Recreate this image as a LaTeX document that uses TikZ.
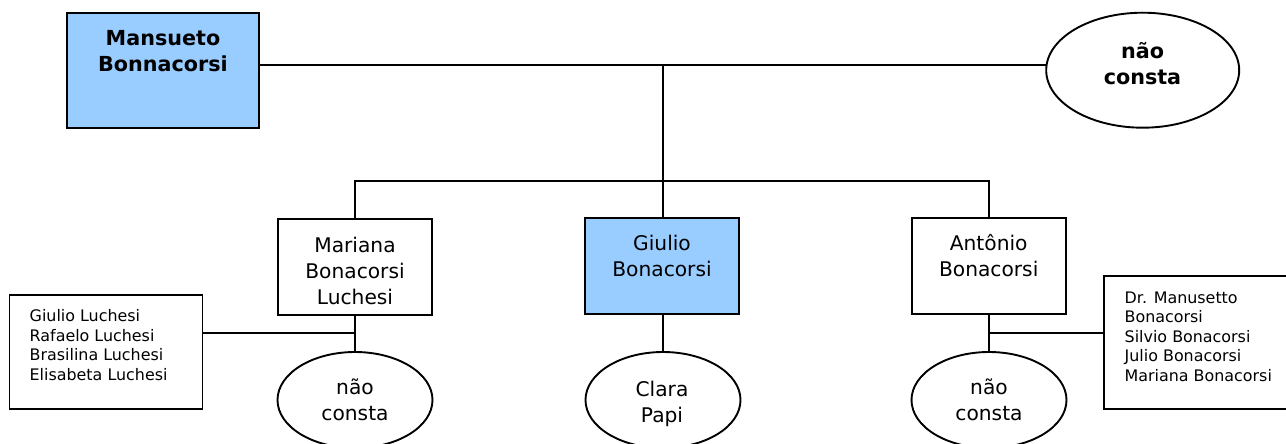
\documentclass[tikz,border=0pt]{standalone}
\usepackage{fontspec}
\setmainfont{DejaVu Sans}
\usetikzlibrary{shapes.geometric}
\definecolor{boxblue}{HTML}{99CCFF}
\begin{document}
\begin{tikzpicture}[x=1pt,y=-1pt,
  ln/.style={line width=1.9pt, line cap=rect},
  box/.style={draw, line width=1.9pt, rectangle, inner sep=0pt, minimum width=154pt, minimum height=96pt},
  bigbox/.style={draw, line width=1.9pt, rectangle, inner sep=0pt, minimum width=192pt, minimum height=115pt, fill=boxblue},
  oval/.style={draw, ellipse, line width=1.9pt, inner sep=0pt, minimum width=155pt, minimum height=96pt},
  bigoval/.style={draw, ellipse, line width=1.9pt, inner sep=0pt, minimum width=193pt, minimum height=115pt},
  listbox/.style={draw, line width=1.9pt, rectangle, inner sep=0pt},
  txt/.style={align=center, inner sep=0pt, font=\fontsize{20.2}{26}\selectfont},
  btxt/.style={align=center, inner sep=0pt, font=\bfseries\fontsize{20.7}{25.5}\selectfont},
  stxt/.style={align=left, inner sep=0pt, anchor=north west, font=\fontsize{15.9}{19.5}\selectfont}
]
\useasboundingbox (0,0) rectangle (1286,444);

% shapes
\node[bigbox] (M) at (163,70.2) {};
\node[bigoval] (E) at (1142.7,70.2) {};
\node[box] (Mar) at (355,267) {};
\node[box, fill=boxblue] (Giu) at (662,266.3) {};
\node[box] (Ant) at (988.7,266) {};
\node[oval] (S1) at (355,400) {};
\node[oval] (S2) at (663,400) {};
\node[oval] (S3) at (989,400) {};
\node[listbox, minimum width=193pt, minimum height=114pt] (L1) at (106,352) {};
\node[listbox, minimum width=191pt, minimum height=133pt] (L3) at (1199.5,342.5) {};

% texts
\node[btxt] (tM) at (163,51) {Mansueto\\Bonnacorsi};
\node[btxt] (tE) at (1142.5,63.5) {não\\consta};
\node[txt] (tMar) at (355,270.6) {Mariana\\Bonacorsi\\Luchesi};
\node[txt] (tGiu) at (662,256) {Giulio\\Bonacorsi};
\node[txt] (tAnt) at (988.7,256) {Antônio\\Bonacorsi};
\node[txt] (tS1) at (355,400) {não\\consta};
\node[txt] (tS2) at (662,403.6) {Clara\\Papi};
\node[txt] (tS3) at (989,400) {não\\consta};
\node[stxt] (tL1) at (29.5,309.5) {Giulio Luchesi\\Rafaelo Luchesi\\Brasilina Luchesi\\Elisabeta Luchesi};
\node[stxt] (tL3) at (1124.5,291.5) {Dr. Manusetto\\Bonacorsi\\Silvio Bonacorsi\\Julio Bonacorsi\\Mariana Bonacorsi};

% junction points
\coordinate (hub) at (663,65);
\coordinate (J) at (663,181);
\coordinate (JL) at (355,181);
\coordinate (JR) at (989,181);
\coordinate (c1) at (355,333);
\coordinate (c3) at (989,333);

% connectors
\draw[ln] (M.east |- hub) -- (E.west |- hub);
\draw[ln] (hub) -- (J);
\draw[ln] (JL) -- (JR);
\draw[ln] (JL) -- (JL |- Mar.north);
\draw[ln] (J) -- (J |- Giu.north);
\draw[ln] (JR) -- (JR |- Ant.north);
\draw[ln] (Mar.south) -- (S1.north);
\draw[ln] (J |- Giu.south) -- (S2.north);
\draw[ln] (JR |- Ant.south) -- (S3.north);
\draw[ln] (L1.east |- c1) -- (c1);
\draw[ln] (c3) -- (L3.west |- c3);
\end{tikzpicture}
\end{document}
